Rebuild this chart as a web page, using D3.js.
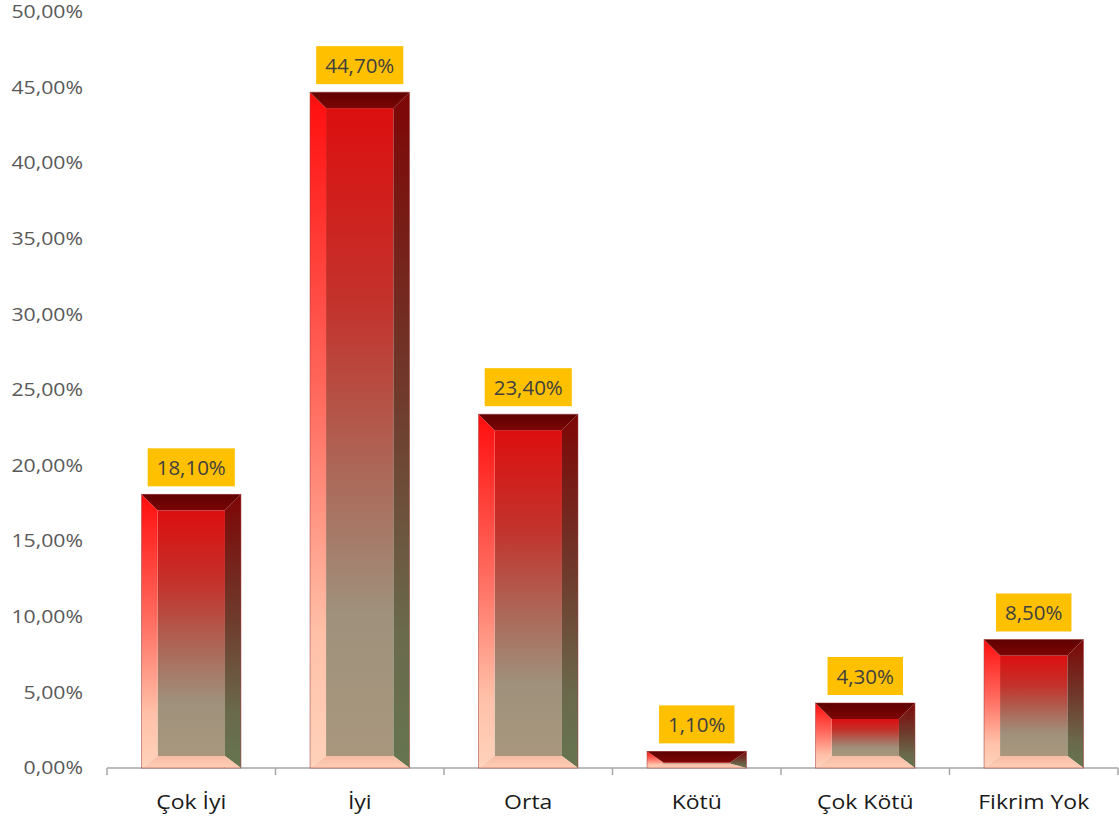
<!DOCTYPE html>
<html>
<head>
<meta charset="utf-8">
<script src="https://cdn.jsdelivr.net/npm/d3@7"></script>
<style>
  body { margin: 0; background: #ffffff; }
  text { font-family: "Open Sans", "Noto Sans", sans-serif; }
</style>
</head>
<body>
<svg id="chart" width="1119" height="824"></svg>
<script>
// Survey answers and their shares (percent)
const categories = ["Çok İyi", "İyi", "Orta", "Kötü", "Çok Kötü", "Fikrim Yok"];
const values = [18.1, 44.7, 23.4, 1.1, 4.3, 8.5];
const valueLabels = ["18,10%", "44,70%", "23,40%", "1,10%", "4,30%", "8,50%"];
const yTicks = [0, 5, 10, 15, 20, 25, 30, 35, 40, 45, 50];
const yTickLabels = ["0,00%", "5,00%", "10,00%", "15,00%", "20,00%", "25,00%",
                     "30,00%", "35,00%", "40,00%", "45,00%", "50,00%"];

const svg = d3.select("#chart");
const plotLeft = 107, plotRight = 1118, plotTop = 12, plotBottom = 768;

const x = d3.scaleBand().domain(categories).range([plotLeft, plotRight])
  .paddingInner(0.41).paddingOuter(0.205);
const y = d3.scaleLinear().domain([0, 50]).range([plotBottom, plotTop]);

// Gradients for the bevelled bar pieces
const defs = svg.append("defs");
function grad(id, stops) {
  const g = defs.append("linearGradient").attr("id", id)
    .attr("x1", 0).attr("y1", 0).attr("x2", 0).attr("y2", 1);
  stops.forEach(([o, c]) => g.append("stop").attr("offset", o).attr("stop-color", c));
}
grad("face", [[0, "#dc0f0f"], [0.3, "#c3322c"], [0.55, "#ad6556"], [0.78, "#9f917c"], [1, "#a8977d"]]);
grad("bevL", [[0, "#ff0d0d"], [0.45, "#ff6a5e"], [0.8, "#ffc0a8"], [1, "#ffd2ba"]]);
grad("bevR", [[0, "#7e0606"], [0.45, "#6f3a2c"], [0.8, "#6a6a4c"], [1, "#667550"]]);
grad("bevT", [[0, "#5e0000"], [1, "#7c0606"]]);
grad("bevB", [[0, "#f6bba3"], [1, "#ffceb6"]]);

// Y axis labels (no axis line)
const yAxis = d3.axisLeft(y).tickValues(yTicks)
  .tickFormat((d, i) => yTickLabels[i]).tickSize(0).tickPadding(0);
const yg = svg.append("g").attr("transform", `translate(${plotLeft - 24},0)`).call(yAxis);
yg.select(".domain").remove();
yg.selectAll("text").attr("fill", "#595959").attr("font-size", 18)
  .attr("transform", "scale(1.18,1)")
  .style("font-family", '"Open Sans", sans-serif');

// X axis line with category separators
const xAxis = d3.axisBottom(x).tickSize(0).tickSizeOuter(0).tickPadding(27);
const xg = svg.append("g").attr("transform", `translate(0,${plotBottom})`).call(xAxis);
xg.select(".domain").attr("stroke", "#a6a6a6").attr("stroke-width", 1.5)
  .attr("d", `M${plotLeft},0H${plotRight}`);
xg.selectAll("text").attr("fill", "#1a1a1a").attr("font-size", 20)
  .attr("transform", "scale(1.15,1)")
  .style("font-family", '"Open Sans", sans-serif');
const bounds = d3.range(categories.length + 1).map(i => plotLeft + i * x.step());
xg.selectAll("line.sep").data(bounds).join("line").attr("class", "sep")
  .attr("x1", d => d).attr("x2", d => d).attr("y1", 0).attr("y2", 7)
  .attr("stroke", "#a6a6a6").attr("stroke-width", 1.5);

// Bevelled bars
const bars = svg.append("g").selectAll("g.bar")
  .data(categories.map((c, i) => ({ c, v: values[i], label: valueLabels[i] })))
  .join("g").attr("class", "bar");

bars.each(function (d) {
  const g = d3.select(this);
  const x0 = x(d.c), x1 = x0 + x.bandwidth();
  const y0 = y(d.v), y1 = y(0);
  const h = y1 - y0;
  const bt = Math.min(16, h * 0.65), bb = Math.min(12, h * 0.25);
  const bs = 16;
  const pts = a => a.map(p => p.join(",")).join(" ");
  g.append("rect").attr("x", x0 + bs).attr("y", y0 + bt)
    .attr("width", Math.max(0, x1 - x0 - 2 * bs)).attr("height", Math.max(0, h - bt - bb))
    .attr("fill", "url(#face)");
  g.append("polygon").attr("fill", "url(#bevL)")
    .attr("points", pts([[x0, y0], [x0 + bs, y0 + bt], [x0 + bs, y1 - bb], [x0, y1]]));
  g.append("polygon").attr("fill", "url(#bevR)")
    .attr("points", pts([[x1, y0], [x1 - bs, y0 + bt], [x1 - bs, y1 - bb], [x1, y1]]));
  g.append("polygon").attr("fill", "url(#bevT)")
    .attr("points", pts([[x0, y0], [x1, y0], [x1 - bs, y0 + bt], [x0 + bs, y0 + bt]]));
  g.append("polygon").attr("fill", "url(#bevB)")
    .attr("points", pts([[x0, y1], [x1, y1], [x1 - bs, y1 - bb], [x0 + bs, y1 - bb]]));
  g.append("rect").attr("x", x0).attr("y", y0).attr("width", x1 - x0).attr("height", h)
    .attr("fill", "none").attr("stroke", "#9a2a2a").attr("stroke-width", 0.8).attr("stroke-opacity", 0.6);

  // value label in an orange box
  const cx = (x0 + x1) / 2;
  const boxH = 38, boxBottom = y0 - 8;
  const t = g.append("text").attr("x", cx).attr("y", boxBottom - boxH / 2)
    .attr("text-anchor", "middle").attr("dominant-baseline", "central")
    .attr("font-size", 20.5).attr("fill", "#404040").text(d.label);
  const w = t.node().getComputedTextLength() + 18;
  g.insert("rect", "text").attr("x", cx - w / 2).attr("y", boxBottom - boxH)
    .attr("width", w).attr("height", boxH).attr("fill", "#ffc000");
});
</script>
</body>
</html>
